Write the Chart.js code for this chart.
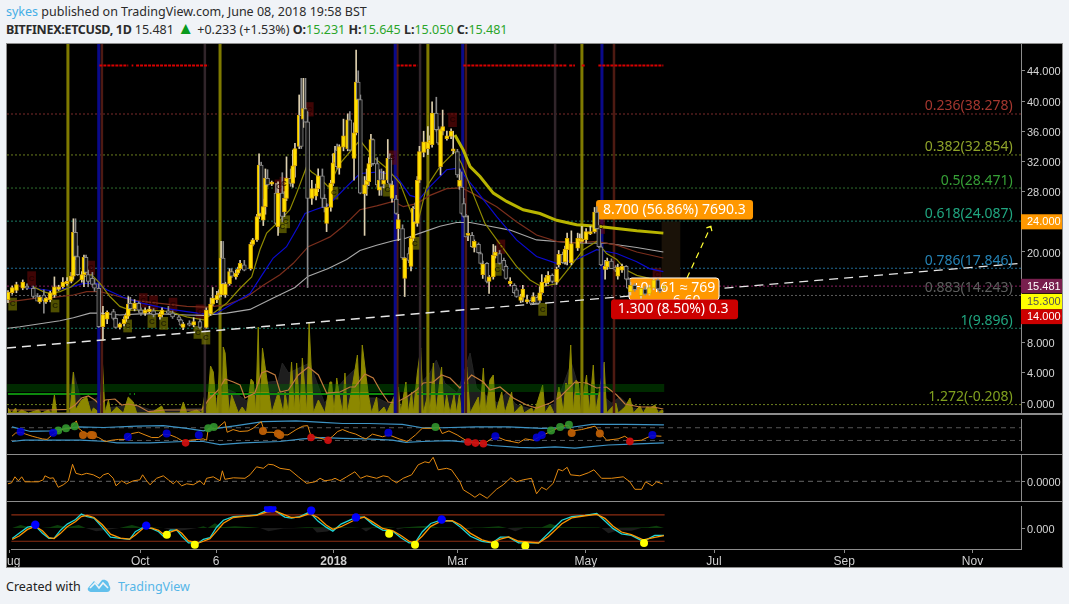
<!DOCTYPE html>
<html><head><meta charset="utf-8"><title>BITFINEX:ETCUSD, 1D</title>
<script src="https://cdn.jsdelivr.net/npm/chart.js@4"></script>
<style>
html,body{margin:0;padding:0;background:#f0f3f7;width:1069px;height:604px;overflow:hidden;font-family:"Noto Sans",sans-serif;}
.t{position:absolute;white-space:nowrap;font-size:12.5px;color:#2b2b2b;}
#frame{position:absolute;left:6px;top:43px;width:1055px;height:523px;background:#000;border:1px solid #8c8c8c;}
.sep{position:absolute;left:7px;width:1055px;height:1px;background:#8c8c8c;}
canvas{position:absolute;left:7px;display:block;}
</style></head><body>
<div class="t" style="left:6px;top:3px"><span style="color:#45aee6">sykes</span> published on TradingView.com, June 08, 2018 19:58 BST</div>
<div class="t" style="left:6px;top:21px"><b style="letter-spacing:-.3px">BITFINEX:ETCUSD, 1D</b>&nbsp;15.481 <span style="color:#0a9a1e;font-size:17px;line-height:12px">▲</span> +0.233 (+1.53%) <b>O:</b><span style="color:#2aa52a">15.231</span> <b>H:</b><span style="color:#2aa52a">15.645</span> <b>L:</b><span style="color:#2aa52a">15.050</span> <b>C:</b><span style="color:#2aa52a">15.481</span></div>
<div id="frame"></div>
<canvas id="main" width="1055" height="369" style="top:44px"></canvas>
<div class="sep" style="top:413px;height:2px"></div>
<canvas id="rsi" width="1055" height="39" style="top:415px"></canvas>
<div class="sep" style="top:454px"></div>
<canvas id="osc" width="1055" height="46" style="top:455px"></canvas>
<div class="sep" style="top:501px"></div>
<canvas id="sto" width="1055" height="65" style="top:502px"></canvas>
<div class="t" style="left:6px;top:578px;color:#222">Created with</div>
<svg style="position:absolute;left:87px;top:577px" width="25" height="17" viewBox="0 0 25 17"><path d="M1 11 L7 4 L11 8 L15 3 C19 2 22 5 22 8 C24 10 24 15 20 15 L5 15 C2 15 0 13 1 11Z" fill="#62c0ec"/><path d="M3 11 L8 6 L12 11 L16 6 L21 11" fill="none" stroke="#f0f3f7" stroke-width="1.6"/></svg>
<div class="t" style="left:118px;top:578px;color:#55b6e8">TradingView</div>
<script>
// ---------- axis ----------
const xMin=-0.47, xMax=480.1;
const monthDays=[-1.2,61,97,153,212,273,334,396,457];
const monthNames=['Aug','Oct','6','2018','Mar','May','Jul','Sep','Nov'];
const priceTicks=[0,4,8,20,28,32,36,40,44];
// ---------- candles: day, open, high, low, close ----------
const candles=[
[0,13.7,14.9,13.3,14.7],[2,14.6,15.5,14.4,15.3],[4,14.9,16,14.6,15.7],[7,15.2,16.3,15,16],[9,15.5,15.8,15,15.2],[12,15.2,15.5,13.9,14.1],[14,14.1,14.5,13.8,13.5],[15,13.4,14.2,13.2,14],[17,14.3,15,11.9,13.6],[18,13.4,14,13.2,13.9],
[20,13.7,14.8,13.4,14.6],[22,14.3,16.7,14,15.4],[24,15.05,15.6,14.9,15.4],[26,15.4,16.6,15.2,16],[28,15.8,16.6,15.6,16.1],[30,16.1,17.3,15.9,16.8],[31,16.8,24.4,16.4,22.6],[32,22.6,24.4,19,19.4],[33,19.4,20.8,16.9,17],[35,16.3,17.4,16,17],
[36,17,19.6,15.4,19.3],[37,19.3,19.6,17.2,17.3],[38,17,17.6,15.4,16.1],[40,16.5,17.3,15.6,15.7],[41,15.8,16.4,14.8,15.2],[43,15.2,15.8,10,10.1],[45,10.1,12.8,8.3,11.7],[47,11.1,12.2,10.5,12],[50,12.1,12.4,11,11.2],[51,11.2,11.6,9.9,10],
[53,10,10.6,9.8,10.5],[55,10.5,11.4,10.2,11.1],[56,11.1,11.9,10.8,11.6],[57,11.5,14.1,11.2,13.1],[58,13.2,14,12.3,12.5],[60,12.5,13.7,12.2,13.2],[62,13.2,13.4,12,12.3],[63,12.3,12.6,11.6,11.9],[65,11.9,12.6,11.6,12.3],[67,12.1,12.8,11.9,12.45],
[69,12.2,12.5,11.4,11.7],[72,11.4,12,11.1,11.8],[73,11.7,12.6,11.4,12.3],[76,12.2,12.8,11.7,11.9],[78,11.9,12.2,11.2,11.4],[81,11.4,11.6,10.8,11],[82,11,11.1,10.2,10.3],[83,10,10.7,9.7,10.5],[86,10.6,10.9,10.2,10.3],[88,10.3,11.3,10.1,10.8],
[91,10.8,11.1,9.8,10],[94,10,12.6,9.9,12.3],[96,11.8,13.9,11.6,13.1],[97,13.1,15.3,12.9,13.9],[99,13.7,14.8,13.3,14.3],[100,14.3,15,14,14.6],[101,14.3,21.4,14.1,19.2],[102,19.2,21.4,15.6,15.8],[103,14.3,16,14,15.8],[105,15.8,17.8,15.6,17.4],
[106,17.4,17.8,16.6,16.8],[108,16.7,17.6,16.4,17.2],[109,17.2,18,17,17.7],[110,17.8,18.9,17.6,18.5],[112,18.3,18.9,17.5,17.6],[115,17.8,21.3,17.6,21],[116,21,21.8,20.8,21.6],[118,21.6,25,21.4,24.7],[119,24.7,33,24.4,31.5],[120,31.5,31.9,24.9,25.1],
[121,24.2,27,23.5,26],[122,26,31,25,29.75],[123,29.75,30.9,28.7,28.9],[125,29,29.4,28.8,29.1],[127,27.8,29.1,23.7,23.8],[128,23.35,29.3,22.2,27.8],[130,27.8,30.5,24,24.7],[131,25.3,28,24.7,27.1],[132,27.1,32.6,26.8,29.75],[134,29.75,31,28.7,29.1],
[135,29.1,33.5,28.6,31.4],[136,31.4,34.4,29.9,33.7],[138,34,40.8,33.7,38.1],[139,38.1,43,33.7,34],[140,37.6,43,36.5,39],[141,39,43,37.2,37.2],[142,37.25,38.7,15.3,27.1],[144,27.1,29.5,26.3,28.4],[146,27.4,29,26.9,28.4],[147,28.4,31,28,30.1],
[149,30.1,31,25.9,27.1],[150,27.1,27.6,25.3,25.9],[151,23.8,26.4,22.7,25.9],[153,25.9,29.5,25.4,29.1],[154,29.1,33,28.8,31.8],[155,31.8,34,31.5,33.1],[156,33.5,34.3,31,31.3],[157,31.1,34.2,30.3,33.95],[159,33.9,37.6,33.4,35.4],[161,33.7,38.3,33.4,37.5],
[162,37.5,38.6,33.4,33.5],[164,32.4,37.1,29.5,35.8],[165,35.8,46.75,35.5,42.5],[166,42.5,44,39.8,40.2],[167,40.2,40.8,27.7,27.8],[169,27.7,30,22.2,28.9],[170,28.9,31,27.5,29.5],[171,29.3,32.5,28.8,31.7],[172,31.7,35.6,31.3,34.9],[173,34.9,35,31.5,31.7],
[175,31.7,32.5,28.6,28.9],[176,28.2,30.9,27.5,29.5],[177,29.7,31,27.5,28.6],[178,29,30.7,28.5,29.5],[180,29.5,34.9,29.2,32.4],[181,32.4,33,28.5,29],[182,27.1,29.4,26.6,28.9],[184,27,27.5,25,25.1],[185,23.1,25,21.5,24.3],[187,23.1,23.6,19,19.2],
[188,16.5,19.3,14.1,19.2],[190,19.8,20.6,18.6,18.9],[191,18.1,22,17.5,21.8],[192,21.8,26,21.5,25.8],[193,25.8,26.5,23.8,24],[194,23.8,30,23.4,29.5],[195,29.5,34,29.2,33.3],[197,33.2,36,32.6,34.6],[199,33.7,36.6,32.9,34.6],[200,34.4,35.4,34.2,34.8],
[201,34.2,39.9,33.9,38.4],[203,38.4,40.5,36,36.2],[204,36.2,36.6,34.2,34.4],[205,31.3,36.3,30.2,36.2],[206,36,38.8,35.5,36.6],[208,35,36,34.8,35.4],[210,35.3,36.3,35,36],[211,33.4,36,33,33.5],[213,33.3,33.6,29.9,30.2],[214,28.7,31,28.3,29.5],
[215,28.6,30.6,25,25.1],[216,26.4,27.1,24.6,24.7],[217,24.7,25,22,22],[218,22.2,24.8,21.5,22.3],[220,22.2,22.6,20.6,20.7],[221,20.6,21.6,20,21.4],[223,21,21.2,19.8,19.9],[224,19.8,20,18.4,18.5],[225,17,18.8,16.5,18.4],[227,18.5,18.6,15.9,16.1],
[228,16.1,16.9,14.5,16.7],[230,16.7,21,16.4,19.6],[231,19.5,20.8,19.2,20],[233,19.8,20.2,18.4,18.5],[235,18.9,19.2,17.5,17.6],[236,18.1,18.3,16.4,16.5],[238,15.8,16.6,15.5,16.1],[240,15.6,15.8,14.5,14.6],[241,15,15.2,14,14.1],[243,13.6,14.4,13.3,14.1],
[244,14,15.6,13.4,15.1],[246,13.4,14.3,13.2,13.7],[248,13.6,13.9,13,13.2],[249,13.4,14.6,13.2,14.1],[251,14,14.2,13.1,13.2],[252,13.6,15.4,13.3,14.6],[253,14.6,17,14.4,16],[255,15.9,16.9,15.5,16.6],[256,16,17.4,15.8,16.9],[258,16.9,17.1,15.9,16.1],
[260,16,18,15.7,17.7],[261,18.3,20.2,18,19.7],[263,19.7,20,18.5,18.6],[264,18.7,20.8,18.4,20.4],[265,20.3,22.5,18.3,21.8],[267,18.6,22.8,18.3,21.1],[270,20.5,22.5,20.2,21.8],[271,21.4,22.4,21.2,21.8],[272,21.4,23.4,21.3,21.6],[274,21.6,23.1,21.2,22.7],
[276,22.4,23.4,22.3,22.7],[278,22.7,25.9,22.5,25.3],[279,25.3,26,23,23.1],[280,23.1,23.6,20.6,20.7],[281,20.7,21,18.2,18.3],[283,17.7,18.9,16.4,18.1],[284,18,19.2,17.7,18.8],[286,18.8,19.1,17.8,17.8],[288,18,18.2,17.4,17.6],[289,16.8,18.4,16.4,18],
[291,17.6,18.4,17.3,18.1],[293,18.1,18.2,16.3,16.4],[294,16.4,16.6,15.1,15.2],[295,14.7,16,14.3,15.6],[297,15.6,15.8,14.8,15],[300,14.2,15.3,13.9,15.2],[302,15.1,15.4,14.3,14.4],[304,14.4,15.6,14.3,15.3],[306,15.2,16.5,15,16.3],[308,16.3,16.4,15,15.1],[309,15.1,15.3,14.6,14.8],[311,15.231,15.645,15.05,15.481]];
// ---------- moving averages ----------
const olDays=[12,16.7,19.9,24.6,30,35.7,39.6,43.6,48.3,53,57.8,67.3,76.8,84.7,92.6,97.3,103.6,110,115.5,119.4,122.6,128.9,133.6,136.8,141.5,143.9,147,151.8,157.3,166.8,173,179.5,185.8,191.3,194.5,198.4,204.7,211.8,215,219.7,226,233,241,247.4,252.9,260,266.3,272.7,279,283.7,288.5,293,298,304];
const olVals=[15.4,14.75,14.5,14.75,15.4,16.7,17,15.85,14.1,12.8,12.3,12.3,12.1,11.4,11,11.9,13.2,15.2,16.7,20.3,22.5,24.2,25.6,27.8,31.3,30.6,30,28.65,31.7,34.8,32.6,31.1,29.1,25.1,24.2,28.65,31.3,33.3,31.7,28.2,23.8,21.1,18.1,16.3,15.4,15.8,18,20.3,21.4,19.8,19,17.6,16.9,16.5];
const blDays=[9,12,19.9,27.8,35.7,42,46.8,54.6,64,75.2,84.7,92.6,98.9,106.8,114.7,121,125.7,132,137.6,140.8,145.5,151.8,160.5,166.8,176.3,184.2,190.5,195.3,200,207.9,213.4,220.5,231.6,241,250.5,260,269.5,279,288.5,298,304,310.6];
const blVals=[15.2,15.2,14.9,15.2,15.85,15.85,15,14,13.2,12.5,12.1,11.8,11.9,13.2,14.5,17.2,19.2,20.7,23.4,25.1,25.6,26.2,28.65,30.4,30.6,30,27.5,27.1,28.65,30.9,31.1,28.65,24.7,21.6,19.4,18.5,19,20.3,19.8,18.7,17.8,17.4];
const brDays=[0,5.7,13.6,21.5,31,37.3,43.6,49.9,59.4,72,84.7,94.1,103.6,113,121,128.9,135.2,142.3,147.9,152.6,158.9,166.8,174.7,182.6,187.4,193.7,200,207.9,215,222,231.6,241,250.5,260,269.5,279,288.5,298,310.6];
const brVals=[13.4,13.6,13.9,14,14.3,14.75,14.75,14.3,13.6,13.2,12.8,12.7,13,14,15.6,17,18.5,20.7,21.4,22,23.4,25.6,26.1,26.7,26,26.4,27.5,28.4,28.5,27.5,26,24,22.25,21.4,21.2,21.4,20.9,20,19.2];
const wtDays=[0,5.7,15.2,24.6,31,38.9,43.6,53,62.5,72,84.7,92.6,103.6,114.7,125.7,136,142.3,151.8,160.5,166.8,174.7,182.6,188.1,195.3,204.7,212.6,219,228.4,237.9,250.5,260,271,283.7,298,310.6];
const wtVals=[9.9,10.1,10.5,10.9,11.3,11.9,11.9,11.65,11.8,11.8,11.65,11.6,11.9,12.4,13.9,15.3,16.8,17.8,19,20.2,20.9,21.5,21.8,22.5,23.4,23.9,23.9,23.4,22.9,21.6,21.4,21.2,21.15,20.6,20];
const goldDays=[211.8,215.8,219,223.7,230,236.3,244.2,252.1,260,269.5,279,288.5,298,310.6];
const goldVals=[35.5,33.5,31.3,30,27.8,26.7,25.6,25.1,24.2,23.6,23.4,23.1,22.8,22.5];
// ---------- levels ----------
const fibPrices=[38.278,32.854,28.471,24.087,17.846,14.243,9.896,-0.208];
const fibNames=['0.236(38.278)','0.382(32.854)','0.5(28.471)','0.618(24.087)','0.786(17.846)','0.883(14.243)','1(9.896)','1.272(-0.208)'];
const fibLineColors=['#7a2a2a','#6b7d1e','#2f6f2f','#1a7a63','#1f6a92','#5a5a5a','#1a7a63','#6b7d1e'];
const fibTextColors=['#a5372f','#8fa32a','#36a036','#20a680','#2583b5','#5e5e5e','#20a680','#80a01f'];
const lastPrice=15.481;
const trendDays=[-0.47,480.1], trendVals=[7.28,18.5];
const arrowDays=[321.8,333.1], arrowVals=[16.56,23.4];
const arrowHeadDays=[331,333.1,333.6], arrowHeadVals=[23.2,23.4,22.75];
const redLevel=44.7;
const redStart=[43.3,58.6,60.7,184.2,192,215.8,266,271.9,279.8], redEnd=[57,59.4,94.9,191.3,194,264.8,268.7,273.5,310.6];
const olVert=[28.4,100.5,199,272], blVert=[43,183.5,215.5,281.5], brVert=[44.5,184.5,217,287.2], gyVert=[93.3,195.3,259.3];
// ---------- markers ----------
const cDays=[2.2,22.3,56.7,68.2,73.8,90,93.8,130,131.6,154.5,179.8,192.9,231.9,253.4];
const cPrices=[13.1,12.85,10.2,10.8,10.55,9.35,8.6,23.35,24,27.8,28.2,21.15,17.7,12.4];
const rDays=[11.2,39.2,64.1,69,78.2,91,128.4,130.8,142.8,182.1,210.7,233.6,280.9,307.6];
const rPrices=[16.5,17.9,13.6,13.3,13,12.1,28.65,29,38.9,32.5,37.5,20.7,23.35,16.95];
// ---------- volume ----------
const upDays=[0,1.8,3.6,4.3,6.5,9.7,14.4,16,19.1,20.7,22,23.1,29.4,31,32,34.9,37.3,39.4,40.5,43.6,44.7,46,47.6,48.8,51.5,53.1,54.7,57,59.4,61,66.5,68.9,72.8,74.4,81.5,83.1,84.7,89.4,91.8,93.4,94.3,96,97.3,98.9,100.5,101.6,102,102.9,104.8,106,109.2,111,113,115.2,116.3,117.4,118.6,119.4,120.6,122.6,125,128.1,130.5,131.3,132.9,134.4,135.7,136.8,138.4,139.5,141.6,142.7,144.7,147.1,150.2,152.6,153.4,154.5,155.8,157,158.6,159.7,160.8,163.3,165.6,166.8,167.9,169.5,170.8,172.3,174.7,175.5,178.2,179.5,185,186.1,188.6,189.7,191.3,192.1,194,195.6,196.8,199.2,200,201.6,202.8,205.5,206.6,207.9,209.5,211.4,212.6,213.9,215,217.4,219,222.9,223.7,225.3,226.4,228.4,230,231.1,234,235.5,238.7,239.8,243.4,244.5,248.2,249.3,253.4,254.5,256.9,258.8,261.1,262.1,263.2,264.4,265.6,266.7,267.9,269.2,270.3,271.4,274.2,275.5,277.4,278.5,282.5,283.7,288.1,289.2,290.8,292.4,294.8,296.4,299.5,301.1,302.7,304.3,306.6,308.2,309.8,310.6];
const upVols=[5,0,5,0,3,0,3,0,3,0,18,0,0,41,3,13,16,0,5,0,53,0,13,0,6,3,0,16,11,0,0,1.5,7,0,0,11,0,3,0,20,0,47,41,0,50,0,66,60,0,18,0,6,0,34,31,0,86,0,65,35,0,21,0,21,0,51,0,50,0,55,0,90,0,13,0,31,31,0,35,18,0,40,0,28,58,0,68,40,18,0,16,0,6,0,26,0,31,0,21,0,40,65,0,20,0,50,0,46,0,18,0,18,0,18,0,46,0,16,0,45,0,33,38,0,21,0,21,0,8,0,5,0,28,0,8,0,26,16,0,30,26,68,0,33,30,0,38,0,48,0,51,0,10,0,3,6,15,0,7,0,6,5,8,0,3,2];
const dnDays=[28,31,35,40,44,46,60,68,95,103,108,113,120,128,130,133,143,150,160,165,170,175,185,200,203,207,213,219,222,228,232,236,241,250,260,267,272,280,286,290,296,311];
const dnVols=[0,41,10,12,18,5,8,3,5,25,20,12,30,32,50,40,50,10,35,45,15,15,5,40,53,30,20,60,25,15,10,20,8,3,10,50,15,20,10,16,5,2];
const vmDays=[0,8,19.1,28.6,31.8,34.9,38.1,41.2,43.6,46,50.7,53.9,57,61.8,66.5,74.4,82.3,91.8,95,99.7,102.9,106.8,110,112.3,117,120.2,122.6,126.6,129,132.9,137.6,142.4,147.1,151,157.3,162.1,164.4,169.2,173.1,176.3,180.2,183.4,188.9,193.7,196.8,201.6,205.5,209.5,214.2,219.7,225.3,228.4,233.2,239.5,245.8,250.5,256.9,261.6,268.7,274.2,279,283.7,288.5,292.4,299.5,305.8,310.6];
const vmVols=[3,3,3,3.7,8,15,17,13,8,13,14,8,9,7,1.3,3,3,3,13,23,34,31,28,15,20,40,42,38,21,23,38,46,38,20,21,26,26,39,35,23,11,10,16,23,30,31,38,35,25,38,31,23,26,15,8,5,10,16,31,30,25,26,18,9,6,6,4];
const bandVol=25, greenVol=19;
const greenStart=[0,57.6,59.7,95.7,194,269], greenEnd=[43.6,58.1,60.2,183.9,215.8,279.8];
// ---------- RSI pane ----------
const rsiDays=[0,1.7,4.1,6.5,9.6,12,14.4,16.7,19.1,21.5,24.6,27.8,30.6,31.7,34.1,37.6,41.2,44.4,47.5,50.7,53.9,57,60.2,63.3,66.5,69.7,72,75.2,78.3,81.5,84.7,88.6,91,92.6,93.4,97.3,101.3,102.4,105.2,108.4,112.3,114.7,118.6,120.2,124.2,127.3,131.3,135.2,138.4,140.7,142.3,145.5,150.2,152.6,155,157.3,160.5,163.6,166.8,168.4,171.5,176.3,179.4,184.2,188.1,192,195.2,200,203.1,204.7,207.9,211.8,215.8,220.5,225.2,228.4,231.6,234.7,241,244.2,248.1,252.1,256.8,260.8,264.7,266.3,271,277.4,279.7,282.9,288.4,291.6,294.7,299.5,304.2,309];
const rsiVals=[43.3,53.3,55.8,50,43.3,39.2,35,33.3,47.5,55.8,66.7,68.3,91.7,68.3,55.8,47.5,39.2,26.7,30.8,33.3,33.3,51.7,55.8,47.5,39.2,39.2,50,47.5,39.2,26.7,30.8,33.3,35,30.8,68.3,66.7,89.2,55.8,64.2,58.3,60,68.3,89.2,55.8,55.8,47.5,47.5,64.2,75,76.7,43.3,39.2,30.8,43.3,58.3,64.2,55.8,50,39.2,35,50,41.7,47.5,35,26.7,47.5,68.3,68.3,72.5,51.7,60,47.5,30.8,22.5,22.5,36.7,39.2,30.8,22.5,35,30.8,45,60,72.5,78.3,60,64.2,75,55.8,30.8,35,43.3,28.3,30.8,45,43.3];
const rsiUpDays=[0,8.8,18.3,31.7,43.6,59.4,72,83.1,91,97.3,106.8,119.4,135.2,147.9,157.3,170,185.7,195.2,204.7,220.5,236.3,252.1,264.7,275.8,291.6,310.2];
const rsiUpVals=[72.5,58.3,60,72.5,70.8,75,76.7,68.3,60,68.3,76.7,89.2,91.7,86.7,83.3,83.3,80.8,70,70,72.5,72.5,68.3,70,80.8,80.8,79.2];
const rsiLoDays=[0,5.7,18.3,32.5,45.2,49.9,65.7,81.5,91,98.9,110,127.3,138.4,147.9,157.3,168.4,181,187.3,195.2,207.9,220.5,228.4,241,248.9,258.4,267.9,274.2,283.7,294.7,310.2];
const rsiLoVals=[26.7,30.8,30.8,30.8,26.7,22.5,22.5,26.7,26.7,16.7,22.5,26.7,35,39.2,36.7,35,30.8,24.2,26.7,29.2,22.5,14.2,8.3,6.7,10,5.8,10,15.8,18.3,22.5];
const rsiLevels=[70,30];
const dotBlueDays=[4.1,19.6,55.1,73.6,88.9,179.1,230,249.7,252.1,304.7], dotBlueVals=[57.5,54.2,41.7,51.7,47.5,54.2,43.3,39.2,47.5,47.5];
const dotGreenDays=[22,25.7,29.8,93.4,96,201.5,256.5,260.8,265], dotGreenVals=[61.7,68.3,75,68.3,72.5,72.5,61.7,72.5,79.2];
const dotOrangeDays=[33.8,37.6,38.5,119.4,126.5,127.6,266.3,279.7], dotOrangeVals=[47.5,47.5,46.7,60,51.7,47.5,53.3,51.7];
const dotRedDays=[82.6,142.3,150.4,217,220.5,224.3,294], dotRedVals=[22.5,39.2,30.8,25,21.7,20,27];
// ---------- oscillator pane ----------
const oscDays=[0,1.7,3.3,4.9,6.5,8,11.2,14.4,16.7,17.5,19.9,21.5,23.8,26.2,28.6,30.6,32.2,34.9,37.3,40.4,43.6,45.2,47.5,49.9,51.2,53.9,56.2,59.4,62.5,63.8,65.4,67.3,70.4,73.6,76,78.3,79.9,82.3,84.7,87.8,91,92.9,94.1,97.3,100.5,101.6,102.8,106.8,112.3,114.7,117.8,121,123.4,125.7,128.9,133.6,137.6,141.5,145.5,147.9,150.2,153.4,155,157.3,160.5,164.4,167.1,170,174.7,177.8,180.2,181.8,184.2,187.3,191.3,194.4,197.6,199.6,201.5,203.9,207.9,210.2,214.2,215.8,218.9,221.3,223.6,227.1,231.5,234.7,238.3,241,244.2,248.1,250.5,252.9,255.2,258.4,260.8,262.8,265,266.6,271,275,277.7,281.3,286,291.6,294.7,297.1,300.3,302.2,305.3,307.4,310.2];
const oscVals=[-5,-3,9,1,9,-1,-1,-1,3,11,6,7,-12,-7,1,34,16,13,16,13,6,13,16,6,-9,1,-5,1,3,13,3,-7,6,11,3,-5,1,-9,-5,-7,1,-7,6,9,1,21,4,7,6,13,29,26,34,33,26,23,9,-4,-1,6,1,3,6,1,9,19,6,11,6,11,9,3,-3,6,13,33,39,37,48,23,26,23,-1,-17,-25,-32,-25,-34,-16,-7,7,-1,3,6,-25,-12,-17,-4,24,21,28,13,11,17,23,6,6,9,-1,-16,-16,-1,-9,-1,-5];
// ---------- stochastic pane ----------
const stoDays=[0,3.3,7.3,10.9,14.4,17.5,19.9,23,26.2,30.2,32.9,35.7,38.9,42.8,46.8,51.5,55.9,58.6,62.5,66.5,69.7,72,75.2,78.3,80.7,83.9,88.6,91,94.1,97.3,100.5,105.2,111.5,116.3,121,125,129.7,132.9,136.8,141.5,145.5,149.4,152.6,156.5,162,163.6,167.6,171.5,176.3,181,185,188.9,191.7,195.2,199.2,203.9,209.4,213.4,218.1,223.6,228.4,232.3,236.3,241,250.5,255.2,261.6,266.3,272.6,278.2,282.1,286,290,294.7,300.3,305.8,310.2];
const stoFast=[-23.5,-11.7,2,5.5,-11.7,-23.5,-23.5,-4.8,9,19.3,31.7,26.2,22.8,2,-20.7,-23.5,-25.5,-8.3,2,-1.4,-8.3,-18.6,-4.8,-4.8,-18.6,-33.8,-33.8,-25.5,-22,2,17.9,26.2,27.6,29.7,40,40,24.8,22.8,26.2,36.6,15.9,2,-6.9,9,20.7,24.8,24.8,9,-4.8,-6.9,-22,-33.8,-33.8,-8.3,10.4,17.9,15.9,2,-18.6,-30.4,-33.8,-20.7,-20.7,-33.8,-33.8,-11.7,17.9,26.2,29,33.1,15.9,-1.4,-13.1,-16.6,-30.4,-16.6,-16.6];
const stoSlow=[-26,-18,-3,4,-6,-22,-24,-12,3,15,26,29,24,8,-14,-23,-25,-16,0,0,-5,-14,-9,-4,-12,-29,-34,-30,-24,-7,11,24,27,29,36,39,30,24,25,33,24,7,-3,3,16,20,25,14,-1,-6,-17,-30,-34,-18,4,15,17,7,-12,-27,-33,-25,-20,-30,-34,-19,10,23,28,31,22,4,-9,-15,-27,-21,-17];
const stoLevels=[30,-30];
const histUpDays=[0,4,8,14,18,21.5,26,31.7,35,51,57,61,65,72,88,91,93,96.5,100,106,114,118,130,134,140,143,154,157.3,162,166,173,180,182.6,193.6,198.4,203,207.9,211.8,223.6,231.6,235.5,245.8,252.1,256,261.6,267.9,278.9,280.5,302.6,306.6,310.2];
const histUpVals=[0,7,2,0,2,7,2,7,0,0,7,2,2,0,0,4,0,11,2,4,2,0,0,0,2,2,2,2,1,0,2,2,0,4,5,1,1,0,1,4,0,2,2,10,2,2,1,0,2,5,0];
const histDnDays=[35,40,46,51,72,78,85,88,118,122,129,143,145,150,154,166,168.4,171.2,182.6,183.4,186.5,211.8,215.8,219.7,235.5,239.4,243.4,280.5,283.7,288.4,294.7,299.5];
const histDnVals=[0,-7,-3,0,0,-8,-2,0,0,-7,-1,0,-10,-8,0,0,-8,0,0,-3,0,0,-3,0,0,-7,0,0,-12,-5,-6,0];
const obDays=[117,121,125,128,139,141.5,144], obVals=[30,40,40,30,30,36,30];
const stoBlueDays=[11,63.8,121.8,123.8,142.3,163.6,204.4], stoBlueVals=[7.6,5.5,44.9,44.9,40,24.2,19.3];
const stoYellowDays=[73.6,86.9,179.4,191.7,229.7,244.2,300.7], stoYellowVals=[-15.2,-38,-13.1,-38,-38,-40,-33.8];

// ---------- helpers ----------
const FONT='"Noto Sans",sans-serif', AXF='"Liberation Sans",Arial,sans-serif';
const xy=(d,v)=>d.map((x,i)=>({x,y:v[i]}));
const line=(d,v,color,width,extra)=>Object.assign({type:'line',data:xy(d,v),borderColor:color,borderWidth:width,pointRadius:0,tension:0,fill:false},extra||{});
const segs=(a,b,y)=>{const o=[];a.forEach((s,i)=>{o.push({x:s,y},{x:b[i],y},{x:b[i],y:null});});return o;};
const dots=(d,v,color,r)=>({type:'line',data:xy(d,v),showLine:false,pointRadius:r,pointBackgroundColor:color,pointBorderWidth:0});
const fixAxis=s=>{s.paddingLeft=s.paddingRight=s.paddingTop=s.paddingBottom=0;};
const nudgeLabels=s=>{ // sit the tick text a little lower, as in the reference
  if(s._nudged)return; s._nudged=true;
  const f=s._computeLabelItems;
  s._computeLabelItems=function(a){const items=f.call(this,a);items.forEach(it=>{it.options.translation=[it.options.translation[0],it.options.translation[1]+1.5];});return items;};
};
function base(yMin,yMax,yTicks,fmt,showX){
  return {responsive:false,animation:false,events:[],devicePixelRatio:1,layout:{padding:0},
    plugins:{legend:{display:false},tooltip:{enabled:false}},
    elements:{line:{borderCapStyle:'butt'}},
    scales:{
      x:{type:'linear',min:xMin,max:xMax,offset:false,display:showX,
        grid:{offset:false,drawOnChartArea:false,color:'#8c8c8c',tickLength:4},border:{color:'#8c8c8c'},
        afterBuildTicks:s=>{s.ticks=monthDays.map(v=>({value:v}));},
        afterFit:s=>{s.height=showX?18:0;fixAxis(s);},
        ticks:{autoSkip:false,maxRotation:0,minRotation:0,padding:1,color:'#cfcfcf',
          font:c=>({family:AXF,size:12,weight:c.tick&&c.tick.value===153?'bold':'normal'}),
          callback:v=>monthNames[monthDays.indexOf(v)]||''}},
      y:{type:'linear',position:'right',min:yMin,max:yMax,
        grid:{drawOnChartArea:false,color:'#8c8c8c',tickLength:4},border:{color:'#8c8c8c'},
        afterBuildTicks:s=>{s.ticks=yTicks.map(v=>({value:v}));},
        afterFit:s=>{s.width=41;fixAxis(s);nudgeLabels(s);},
        ticks:{autoSkip:false,padding:2,color:'#d6d6d6',font:{family:AXF,size:11},callback:fmt}}
    }};
}
// ---------- main pane ----------
const bodyColor=candles.map(r=>r[4]>=r[1]?'#ffe100':'#161616');
const bodyEdge=candles.map(r=>r[4]>=r[1]?'#d9a400':'#8a8a8a');
const wickColor=candles.map(r=>r[4]>=r[1]?'#dccfae':'#8a8a8a');
const vertical=(days,color,w)=>days.map(d=>line([d,d],[-1.325,47.55],color,w));
const notes=[
 {d0:294.3,d1:337,p0:16.56,p1:13.64,fill:'#ff9800',edge:'#ffffff',texts:[['+0.161 ≈ 769',296,15.2],['6.60',315,13.5]]},
 {d0:285.8,d1:346,p0:13.7,p1:11.1,fill:'#cc0000',texts:[['1.300 (8.50%) 0.3',289,12.4]]},
 {d0:278.7,d1:353.1,p0:26.9,p1:24.3,fill:'#ff9800',texts:[['8.700 (56.86%) 7690.3',282,25.6]]}];
const priceTags=[
 {text:'24.000',p0:25,p1:23,bg:'#ff9800',fg:'#fff'},
 {text:'15.481',p0:16.45,p1:14.55,bg:'#781f4e',fg:'#fff'},
 {text:'15.300',p0:14.45,p1:12.4,bg:'#ffff00',fg:'#555'},
 {text:'14.000',p0:12.4,p1:10.45,bg:'#cc0000',fg:'#fff'}];
const annot={id:'annot',
 beforeDatasetDraw(chart,args){
  if(args.index!==1)return;
  const c=chart.ctx,X=chart.scales.x,Y=chart.scales.y;
  c.save();
  notes.forEach(n=>{
   const x0=X.getPixelForValue(n.d0),x1=X.getPixelForValue(n.d1),y0=Y.getPixelForValue(n.p0),y1=Y.getPixelForValue(n.p1);
   c.beginPath();c.roundRect(x0,y0,x1-x0,y1-y0,3);c.fillStyle=n.fill;c.fill();
   if(n.edge){c.strokeStyle=n.edge;c.lineWidth=1;c.stroke();}
   c.fillStyle='#fff';c.font='14px '+FONT;c.textBaseline='middle';c.textAlign='left';
   n.texts.forEach(t=>c.fillText(t[0],X.getPixelForValue(t[1]),Y.getPixelForValue(t[2])));
  });
  c.restore();
 },
 afterDatasetsDraw(chart){
  const c=chart.ctx,X=chart.scales.x,Y=chart.scales.y,A=chart.chartArea;
  c.save();
  c.font='bold 8px '+AXF;c.textAlign='center';c.textBaseline='middle';c.fillStyle='rgba(20,20,0,.75)';
  cDays.forEach((d,i)=>c.fillText('C',X.getPixelForValue(d),Y.getPixelForValue(cPrices[i])));
  c.fillStyle='rgba(30,0,0,.8)';
  rDays.forEach((d,i)=>c.fillText('C',X.getPixelForValue(d),Y.getPixelForValue(rPrices[i])));
  c.font='14px '+FONT;c.textAlign='right';c.textBaseline='bottom';
  fibPrices.forEach((p,i)=>{c.fillStyle=fibTextColors[i];c.fillText(fibNames[i],X.getPixelForValue(476.2),Y.getPixelForValue(p)-0.5);});
  c.font='11px '+AXF;c.textAlign='left';c.textBaseline='middle';
  priceTags.forEach(t=>{const y0=Y.getPixelForValue(t.p0),y1=Y.getPixelForValue(t.p1);
   c.fillStyle=t.bg;c.fillRect(A.right,y0,chart.width-A.right,y1-y0);
   c.fillStyle=t.fg;c.fillText(t.text,A.right+6,(y0+y1)/2+0.5);});
  c.restore();
 }};
const fibDatasets=fibPrices.map((p,i)=>line([xMin,xMax],[p,p],fibLineColors[i],1,{borderDash:[2,2]}));
new Chart(document.getElementById('main'),{type:'bar',plugins:[annot],data:{datasets:[
 {type:'bar',data:candles.map(r=>({x:r[0],y:[Math.min(r[1],r[4]),Math.max(r[1],r[4])]})),backgroundColor:bodyColor,borderColor:bodyEdge,borderWidth:1,borderSkipped:false,barThickness:4,grouped:false,minBarLength:2},
 {type:'bar',data:candles.map(r=>({x:r[0],y:[r[3],r[2]]})),backgroundColor:wickColor,borderWidth:0,barThickness:1,grouped:false},
 line(goldDays,goldVals,'#b8b400',3),
 line(trendDays,trendVals,'#e6e6e6',1.4,{borderDash:[9,6]}),
 line(arrowDays,arrowVals,'#ffff33',1.2,{borderDash:[6,5]}),
 line(arrowHeadDays,arrowHeadVals,'#ffff33',1.2),
 line(olDays,olVals,'#8f8a00',1.2),
 line(blDays,blVals,'#0a0ad0',1.2),
 line(brDays,brVals,'#7a2e1c',1.2),
 line(wtDays,wtVals,'#a8a8a8',1.1),
 {type:'bar',data:xy(cDays,cPrices.map(p=>[p-0.8,p+0.8])),backgroundColor:'rgba(128,128,0,.62)',barThickness:8,grouped:false},
 {type:'bar',data:xy(rDays,rPrices.map(p=>[p-0.9,p+0.9])),backgroundColor:'rgba(105,8,8,.6)',barThickness:8,grouped:false},
 {type:'line',data:segs(redStart,redEnd,redLevel),borderColor:'#d80000',borderWidth:2,borderDash:[3,1],pointRadius:0,spanGaps:false},
 ...vertical(olVert,'#7f7a00',3),
 ...vertical(blVert,'#0a0a8a',3),
 ...vertical(brVert,'#4d1a12',2.5),
 ...vertical(gyVert,'#31252a',2.5),
 {...line(vmDays,vmVols,'#c07a3c',1.2),yAxisID:'v'},
 {type:'line',yAxisID:'v',data:segs(greenStart,greenEnd,greenVol),borderColor:'#0d8a0d',borderWidth:2,pointRadius:0,spanGaps:false},
 {...line([xMin,311],[bandVol,bandVol],'rgba(0,110,0,.38)',8),yAxisID:'v'},
 {...line(upDays,upVols,'#8c8800',1,{fill:{value:0},backgroundColor:'#8c8800'}),yAxisID:'v'},
 {...line(dnDays,dnVols,'#242424',1,{fill:{value:0},backgroundColor:'#1e1e1e'}),yAxisID:'v'},
 {type:'bar',data:[{x:314.2,y:[16.5,24]}],backgroundColor:'#1a1208',barThickness:18,grouped:false},
 line([xMin,xMax],[lastPrice,lastPrice],'#8a2060',1,{borderDash:[2,2]}),
 ...fibDatasets
]},options:(()=>{const o=base(-1.325,47.55,priceTicks,v=>Number(v).toFixed(3),false);
 o.scales.v={type:'linear',display:false,min:0,max:369};return o;})()});
// ---------- RSI pane ----------
new Chart(document.getElementById('rsi'),{type:'line',data:{datasets:[
 dots(dotBlueDays,dotBlueVals,'rgba(0,0,215,.9)',4),
 dots(dotGreenDays,dotGreenVals,'rgba(50,150,45,.9)',4),
 dots(dotOrangeDays,dotOrangeVals,'rgba(190,95,5,.95)',4),
 dots(dotRedDays,dotRedVals,'rgba(205,15,15,.95)',3.8),
 line(rsiDays,rsiVals,'#e58a10',1),
 line(rsiUpDays,rsiUpVals,'#3d93c4',1.2),
 line(rsiLoDays,rsiLoVals,'#3d93c4',1.2),
 ...rsiLevels.map(v=>line([xMin,xMax],[v,v],'#555',1,{borderDash:[5,4]}))
]},options:base(0,97.5,[],v=>'',false)});
// ---------- oscillator pane ----------
new Chart(document.getElementById('osc'),{type:'line',data:{datasets:[
 line(oscDays,oscVals,'#e58a10',1),
 line([xMin,xMax],[0,0],'#666',1,{borderDash:[5,4]})
]},options:base(-39.4,52.6,[0],v=>'0.0000',false)});
// ---------- stochastic pane ----------
new Chart(document.getElementById('sto'),{type:'line',data:{datasets:[
 dots(stoBlueDays,stoBlueVals,'#0000ff',4.2),
 dots(stoYellowDays,stoYellowVals,'#ffff00',4),
 line(stoDays,stoSlow,'#ff9500',1.3),
 line(stoDays,stoFast,'#20d5d5',1.3),
 line([xMin,310.5],[stoLevels[0],stoLevels[0]],'#8c2c12',1.1),
 line([xMin,310.5],[stoLevels[1],stoLevels[1]],'#8c2c12',1.1),
 line(obDays,obVals,'#5a1208',0,{fill:{value:30},backgroundColor:'#5a1208'}),
 line(histUpDays,histUpVals,'#0b3d0b',0,{fill:{value:0},backgroundColor:'#0b3d0b'}),
 line(histDnDays,histDnVals,'#1c1c1c',0,{fill:{value:0},backgroundColor:'#1c1c1c'})
]},options:base(-47.6,49.7,[0],v=>'0.000',true)});
</script>
</body></html>
